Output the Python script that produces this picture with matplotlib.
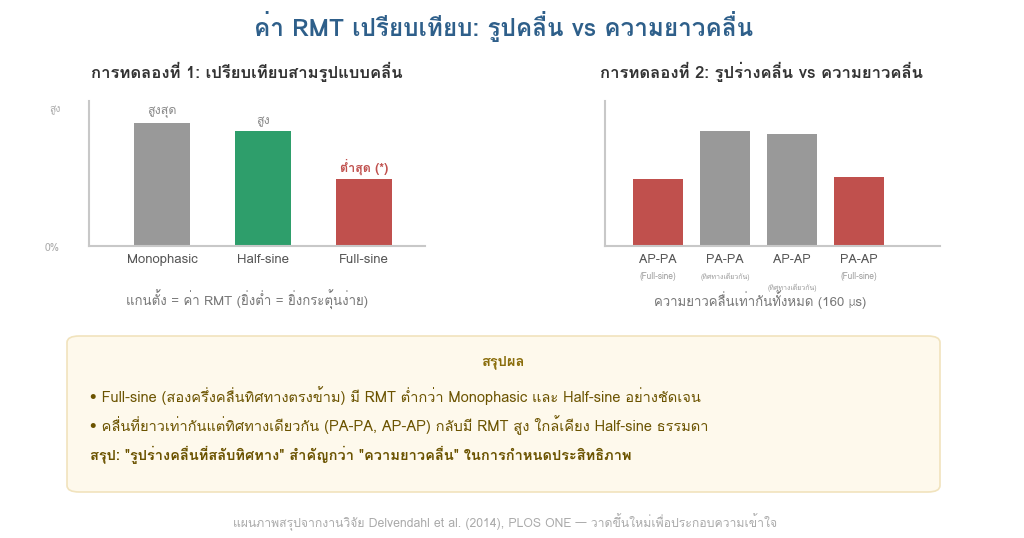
import matplotlib
matplotlib.use("Agg")
import matplotlib.pyplot as plt
from matplotlib import font_manager
from matplotlib.ft2font import FT2Font
from matplotlib.patches import FancyBboxPatch

# ---------------- data ----------------
exp1_categories = ["Monophasic", "Half-sine", "Full-sine"]
exp1_values = [85, 79, 46]
exp1_notes = ["สูงสุด", "สูง", "ต่ำสุด (*)"]

exp2_categories = ["AP-PA", "PA-PA", "AP-AP", "PA-AP"]
exp2_values = [46, 79, 77.5, 47.5]
exp2_sublabels = ["(Full-sine)", "(ทิศทางเดียวกัน)", "(ทิศทางเดียวกัน)", "(Full-sine)"]

title = "ค่า RMT เปรียบเทียบ: รูปคลื่น vs ความยาวคลื่น"
sub1 = "การทดลองที่ 1: เปรียบเทียบสามรูปแบบคลื่น"
sub2 = "การทดลองที่ 2: รูปร่างคลื่น vs ความยาวคลื่น"
caption1 = "แกนตั้ง = ค่า RMT (ยิ่งต่ำ = ยิ่งกระตุ้นง่าย)"
caption2 = "ความยาวคลื่นเท่ากันทั้งหมด (160 μs)"
summary_title = "สรุปผล"
summary_lines = [
    "• Full-sine (สองครึ่งคลื่นทิศทางตรงข้าม) มี RMT ต่ำกว่า Monophasic และ Half-sine อย่างชัดเจน",
    "• คลื่นที่ยาวเท่ากันแต่ทิศทางเดียวกัน (PA-PA, AP-AP) กลับมี RMT สูง ใกล้เคียง Half-sine ธรรมดา",
    "สรุป: \"รูปร่างคลื่นที่สลับทิศทาง\" สำคัญกว่า \"ความยาวคลื่น\" ในการกำหนดประสิทธิภาพ",
]
footer = "แผนภาพสรุปจากงานวิจัย Delvendahl et al. (2014), PLOS ONE — วาดขึ้นใหม่เพื่อประกอบความเข้าใจ"

# ---------------- fonts ----------------
thai_fams = []
for f in font_manager.fontManager.ttflist:
    try:
        cm = FT2Font(f.fname).get_charmap()
        if 0x0E01 in cm and f.name not in thai_fams:
            thai_fams.append(f.name)
    except Exception:
        pass
fams = thai_fams + ["DejaVu Sans"]
plt.rcParams["font.family"] = fams

GRAY = "#999999"
GREEN = "#2e9e6b"
RED = "#c0504d"
AXC = "#c8c8c8"

fig = plt.figure(figsize=(10.24, 5.38), dpi=100)
W, H = 1024, 538

def ax_rect(x0, y0, x1, y1):
    return [x0 / W, 1 - y1 / H, (x1 - x0) / W, (y1 - y0) / H]

def style(ax):
    for s in ["top", "right"]:
        ax.spines[s].set_visible(False)
    for s in ["left", "bottom"]:
        ax.spines[s].set_color(AXC)
        ax.spines[s].set_linewidth(1.5)
    ax.set_yticks([])
    ax.tick_params(axis="x", length=0)

# experiment 1
ax1 = fig.add_axes(ax_rect(89, 101, 425, 246))
x1 = list(range(len(exp1_categories)))
ax1.bar(x1, exp1_values, width=0.55, color=[GRAY, GREEN, RED])
ax1.set_xlim(-0.72, 2.6)
ax1.set_ylim(0, 100)
style(ax1)
ax1.set_xticks(x1)
ax1.set_xticklabels(exp1_categories, fontsize=9.5, color="#555555")
ax1.tick_params(axis="x", pad=6)
note_cols = ["#888888", "#888888", RED]
for xi, v, n, c in zip(x1, exp1_values, exp1_notes, note_cols):
    ax1.text(xi, v + 3, n, ha="center", va="bottom", fontsize=9, color=c,
             fontweight="bold" if c == RED else "normal")

fig.text(55 / W, 1 - 110 / H, "สูง", fontsize=7.5, color="#aaaaaa", ha="center", va="center")
fig.text(52 / W, 1 - 248 / H, "0%", fontsize=7.5, color="#aaaaaa", ha="center", va="center")
fig.text(247 / W, 1 - 300 / H, caption1, fontsize=9.5, color="#777777", ha="center", va="center")

# experiment 2
ax2 = fig.add_axes(ax_rect(605, 101, 940, 246))
x2 = list(range(len(exp2_categories)))
ax2.bar(x2, exp2_values, width=0.75, color=[RED, GRAY, GRAY, RED])
ax2.set_xlim(-0.79, 4.21)
ax2.set_ylim(0, 100)
style(ax2)
ax2.set_xticks(x2)
ax2.set_xticklabels(exp2_categories, fontsize=9, color="#555555")
ax2.tick_params(axis="x", pad=6)
for i, (xi, s) in enumerate(zip(x2, exp2_sublabels)):
    yoff = -27 if i == 2 else -19
    fs = 5 if "(F" not in s else 6
    ax2.annotate(s, (xi, 0), xytext=(0, yoff), textcoords="offset points",
                 ha="center", va="top", fontsize=fs, color="#999999")
fig.text(760 / W, 1 - 300 / H, caption2, fontsize=9.5, color="#777777", ha="center", va="center")

# titles
fig.text(504 / W, 1 - 27 / H, title, fontsize=17.5, color="#2e5f8a", ha="center", va="center",
         fontweight="bold")
fig.text(247 / W, 1 - 72 / H, sub1, fontsize=12, color="#333333", ha="center", va="center",
         fontweight="bold")
fig.text(761 / W, 1 - 72 / H, sub2, fontsize=12, color="#333333", ha="center", va="center",
         fontweight="bold")

# summary box
box = FancyBboxPatch((67 / W, 1 - 492 / H), (940 - 67) / W, (492 - 336) / H,
                     boxstyle="round,pad=0,rounding_size=0.012", transform=fig.transFigure,
                     facecolor="#fef9ec", edgecolor="#f1e3bd", linewidth=1.2)
fig.add_artist(box)
fig.text(503 / W, 1 - 362 / H, summary_title, fontsize=10.5, color="#8a6d0b", ha="center",
         va="center", fontweight="bold")
ys = [396, 425, 455]
for i, (y, line) in enumerate(zip(ys, summary_lines)):
    fig.text(90 / W, 1 - y / H, line, fontsize=10.5, color="#6b5300", ha="left", va="center",
             fontweight="bold" if i == 2 else "normal")

fig.text(505 / W, 1 - 522 / H, footer, fontsize=8.8, color="#aaaaaa", ha="center", va="center")

fig.savefig("out.png", dpi=100, facecolor="white")
